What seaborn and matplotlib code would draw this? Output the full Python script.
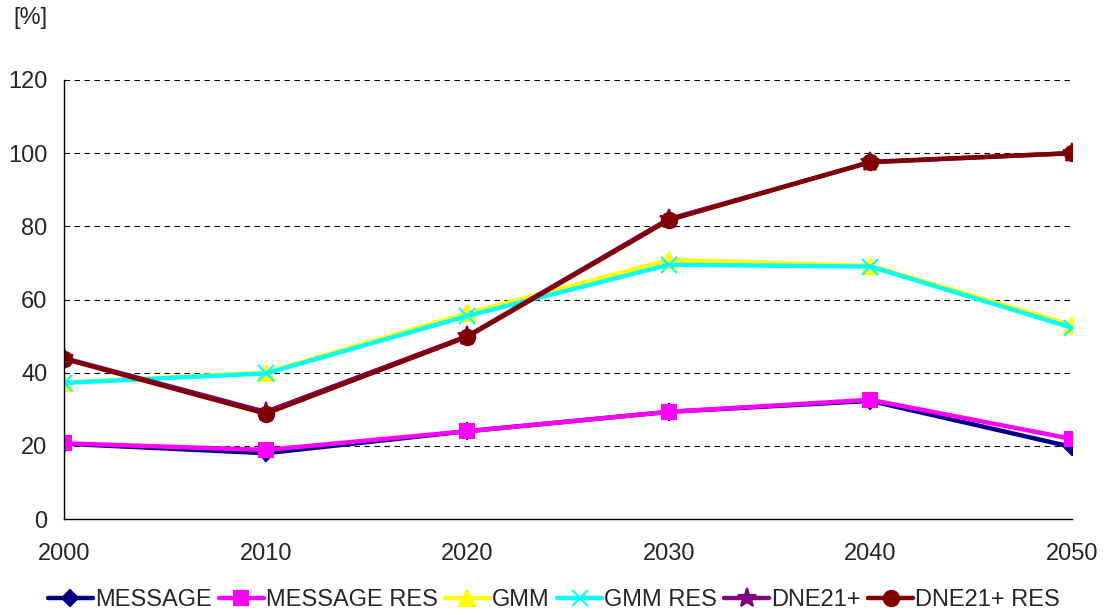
import matplotlib
matplotlib.use("Agg")
import matplotlib.pyplot as plt
import seaborn as sns
import pandas as pd

years = [2000, 2010, 2020, 2030, 2040, 2050]
message = [20.6, 18.0, 24.0, 29.3, 32.3, 19.7]
message_res = [20.7, 18.9, 24.0, 29.3, 32.6, 21.9]
gmm = [37.3, 40.0, 56.2, 70.8, 69.2, 53.0]
gmm_res = [37.2, 39.8, 55.5, 69.5, 69.0, 52.3]
dne21 = [44.0, 29.3, 50.0, 82.0, 97.5, 100.0]
dne21_res = [43.8, 28.8, 49.8, 81.7, 97.6, 100.0]

series = {
    'MESSAGE': message,
    'MESSAGE RES': message_res,
    'GMM': gmm,
    'GMM RES': gmm_res,
    'DNE21+': dne21,
    'DNE21+ RES': dne21_res,
}
colors = {
    'MESSAGE': '#000080',
    'MESSAGE RES': '#FF00FF',
    'GMM': '#FFFF00',
    'GMM RES': '#00FFFF',
    'DNE21+': '#800080',
    'DNE21+ RES': '#800000',
}
markers = {
    'MESSAGE': 'D',
    'MESSAGE RES': 's',
    'GMM': '^',
    'GMM RES': 'x',
    'DNE21+': '*',
    'DNE21+ RES': 'o',
}
msizes = {'MESSAGE': 8, 'MESSAGE RES': 9.5, 'GMM': 11, 'GMM RES': 11,
          'DNE21+': 14, 'DNE21+ RES': 11}

sns.set_style('white')
plt.rcParams['font.family'] = ['Liberation Sans', 'DejaVu Sans']

fig = plt.figure(figsize=(11.08, 6.15), dpi=100)
ax = fig.add_axes([0.0578, 0.156, 0.9097, 0.714])

# dashed grid lines
for g in range(20, 121, 20):
    ax.axhline(g, color='black', linestyle=(0, (5, 4)), linewidth=0.8, zorder=0)

for name, vals in series.items():
    df = pd.DataFrame({'year': years, 'value': vals})
    sns.lineplot(data=df, x='year', y='value', color=colors[name],
                 marker=markers[name], markersize=msizes[name],
                 markeredgecolor=colors[name], markeredgewidth=1.5,
                 linewidth=3.2, label=name, ax=ax, legend=False)

ax.set_xlim(2000, 2050)
ax.set_ylim(0, 120)
ax.set_xticks(years)
ax.set_yticks(range(0, 121, 20))
ax.set_xlabel('')
ax.set_ylabel('')
ax.tick_params(axis='both', labelsize=17, length=5, color='black')
ax.tick_params(axis='x', direction='in', pad=17)
ax.tick_params(axis='y', direction='out', pad=7)
for s in ['top', 'right']:
    ax.spines[s].set_visible(False)
for s in ['left', 'bottom']:
    ax.spines[s].set_color('black')
    ax.spines[s].set_linewidth(1)

fig.text(0.012, 0.97, '[%]', fontsize=17, va='center', ha='left')

handles = ax.get_lines()[6:]
labels = list(series.keys())
fig.legend(handles, labels, loc='center', bbox_to_anchor=(0.5, 0.024),
           ncol=6, frameon=False, fontsize=17, handlelength=1.9,
           handletextpad=0.1, columnspacing=0.3, borderaxespad=0,
           borderpad=0)

fig.savefig('out.png', dpi=100)
